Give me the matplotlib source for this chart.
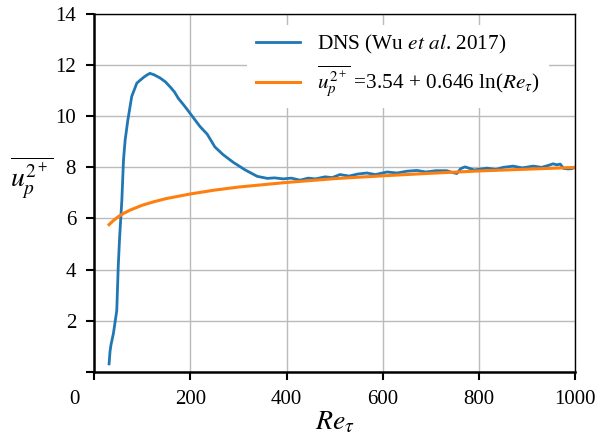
import numpy as np
import matplotlib
matplotlib.use("Agg")
import matplotlib.pyplot as plt
import matplotlib.transforms as mtransforms

plt.rcParams['font.family'] = ['Liberation Serif', 'DejaVu Serif']
plt.rcParams['mathtext.fontset'] = 'stix'

# DNS (Wu et al. 2017)
re_dns = [31, 33, 35, 40, 47, 50, 53, 55.5, 57.5, 61, 64.4, 70, 78, 88.7, 102.5, 110,
          116, 125, 137, 148, 158, 167, 175, 188, 200, 210, 220, 235, 251, 268, 289,
          314, 339, 360, 375, 393, 410, 428, 445, 460, 480, 495, 511, 530, 548, 567,
          585, 609, 630, 650, 671, 690, 710, 733, 745, 754, 762, 771, 790, 817, 835,
          850, 871, 890, 913, 930, 945, 954, 962, 969, 976, 985, 993, 1000]
u_dns = [0.31, 0.8, 1.06, 1.5, 2.4, 4.1, 5.3, 6.07, 6.7, 8.3, 9.07, 9.85, 10.77, 11.3,
         11.52, 11.62, 11.68, 11.62, 11.5, 11.35, 11.15, 10.95, 10.7, 10.4, 10.1, 9.85,
         9.6, 9.3, 8.8, 8.5, 8.2, 7.9, 7.65, 7.57, 7.59, 7.55, 7.58, 7.5, 7.58, 7.55,
         7.63, 7.6, 7.72, 7.66, 7.74, 7.78, 7.72, 7.82, 7.78, 7.85, 7.88, 7.82, 7.87,
         7.87, 7.8, 7.76, 7.95, 8.02, 7.9, 7.97, 7.92, 8.0, 8.05, 7.98, 8.05, 8.0, 8.08,
         8.14, 8.1, 8.13, 7.96, 7.94, 7.95, 8.0]

# fit 3.54 + 0.646 ln(Re_tau)
re_fit = [31, 40, 50, 60, 75, 100, 125, 150, 200, 250, 300, 400, 500, 600, 700, 800, 900, 1000]
u_fit = [5.76, 5.92, 6.07, 6.19, 6.33, 6.52, 6.66, 6.78, 6.96, 7.11, 7.23, 7.41, 7.56,
         7.67, 7.77, 7.86, 7.93, 8.00]

xticks = [0, 200, 400, 600, 800, 1000]
yticks = [0, 2, 4, 6, 8, 10, 12, 14]

fig = plt.figure(figsize=(5.96, 4.4), dpi=100)
ax = fig.add_axes([0.158, 0.155, 0.807, 0.813])

ax.plot(re_dns, u_dns, color='#1f77b4', lw=2, label=r'DNS (Wu $et$ $al$. 2017)')
ax.plot(re_fit, u_fit, color='#ff7f0e', lw=2.2,
        label=r'$\overline{u_p^{2^+}}$ =3.54 + 0.646 ln($Re_\tau$)')

ax.set_xlim(0, 1000)
ax.set_ylim(0, 14)
ax.set_xticks(xticks)
ax.set_yticks(yticks)
ax.set_xticklabels([str(t) for t in xticks])
ax.set_yticklabels([''] + [str(t) for t in yticks[1:]])
ax.grid(True, color='#bbbbbb', lw=1)
ax.set_axisbelow(True)

for s in ['left', 'bottom']:
    ax.spines[s].set_linewidth(1.8)
for s in ['top', 'right']:
    ax.spines[s].set_linewidth(1.0)
ax.tick_params(axis='both', labelsize=15, length=6, width=1.5, pad=7)

# "0" of x axis sits left of its tick
lab0 = ax.get_xticklabels()[0]
lab0.set_transform(lab0.get_transform() + mtransforms.ScaledTranslation(-20 / 100, 0, fig.dpi_scale_trans))

ax.set_xlabel(r'$Re_\tau$', fontsize=20)
ax.xaxis.set_label_coords(0.5, -0.105)
ax.set_ylabel(r'$\overline{u_p^{2^+}}$', fontsize=20, rotation=0)
ax.yaxis.set_label_coords(-0.13, 0.48)

leg = ax.legend(loc='upper right', bbox_to_anchor=(0.967, 1.0), fontsize=15.3,
                frameon=True, facecolor='white', edgecolor='none', framealpha=1,
                handlelength=2.1, labelspacing=0.35)

fig.savefig('out.png', dpi=100)
